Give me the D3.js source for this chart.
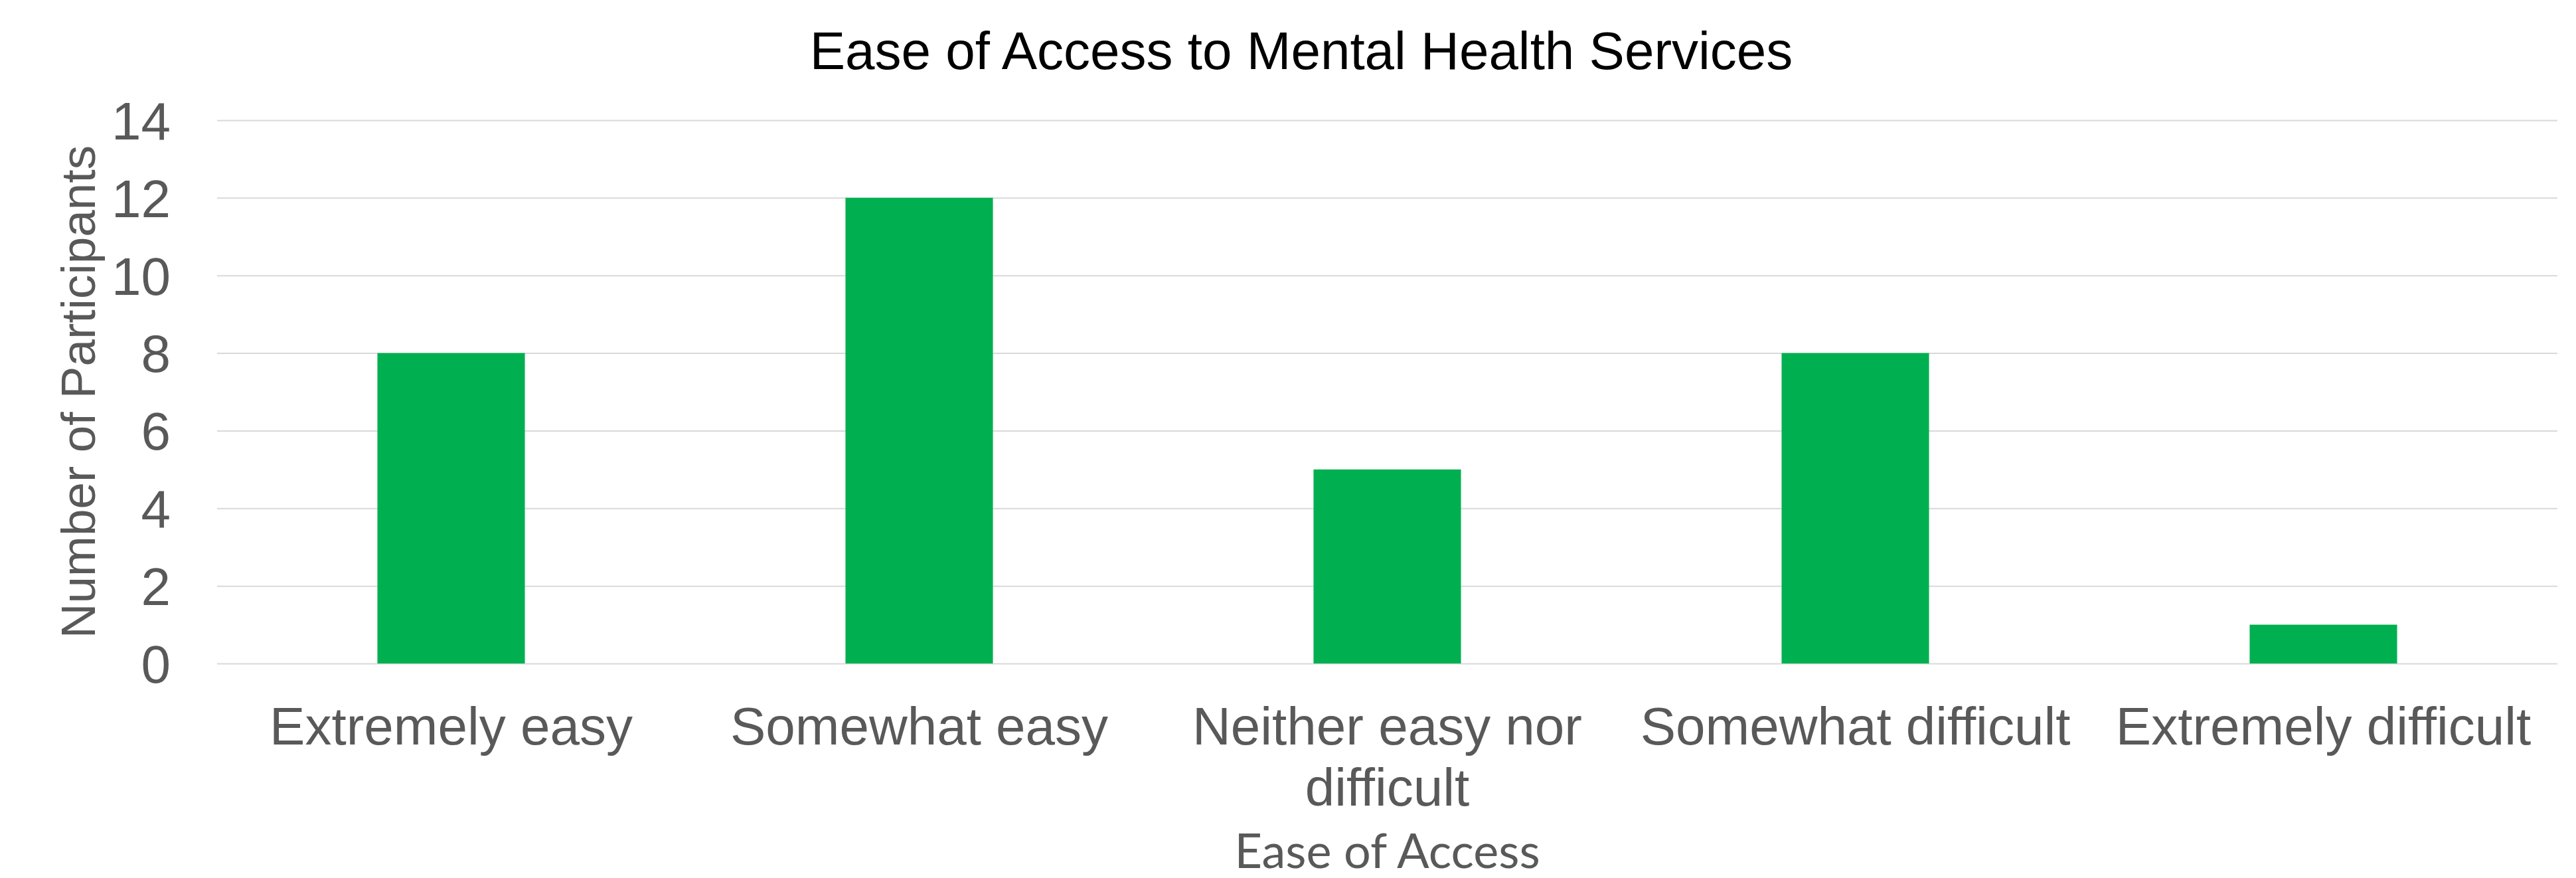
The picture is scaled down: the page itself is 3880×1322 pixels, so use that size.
<!DOCTYPE html>
<html>
<head>
<meta charset="utf-8">
<script src="https://cdn.jsdelivr.net/npm/d3@7"></script>
<style>
  html, body { margin: 0; padding: 0; background: #ffffff; }
  svg { display: block; }
</style>
</head>
<body>
<script>
// ---- data ----
const categories = ["Extremely easy", "Somewhat easy", "Neither easy nor difficult", "Somewhat difficult", "Extremely difficult"];
const participants = [8, 12, 5, 8, 1];
const yTicks = [0, 2, 4, 6, 8, 10, 12, 14];
const chartTitle = "Ease of Access to Mental Health Services";
const xTitle = "Ease of Access";
const yTitle = "Number of Participants";

// ---- layout ----
const W = 3880, H = 1322;
const plot = { left: 327, right: 3852, top: 181, bottom: 999 };
const labelFont = "'Liberation Sans', Arial, sans-serif";
const grey = "#595959";

const svg = d3.select("body").append("svg")
  .attr("width", W).attr("height", H)
  .style("background", "#ffffff");

const x = d3.scaleBand()
  .domain(categories)
  .range([plot.left, plot.right])
  .paddingInner(0.685)
  .paddingOuter(0.3425);

const y = d3.scaleLinear()
  .domain([0, 14])
  .range([plot.bottom, plot.top]);

// gridlines
const grid = svg.append("g")
  .attr("transform", `translate(${plot.left},0)`)
  .call(d3.axisLeft(y).tickValues(yTicks).tickSize(-(plot.right - plot.left)).tickFormat(""));
grid.select(".domain").remove();
grid.selectAll(".tick line").attr("stroke", "#d9d9d9").attr("stroke-width", 2);

// y tick labels
const yAxis = svg.append("g")
  .attr("transform", `translate(257,0)`)
  .call(d3.axisLeft(y).tickValues(yTicks).tickSize(0).tickPadding(0).tickFormat(d3.format("d")));
yAxis.select(".domain").remove();
yAxis.selectAll(".tick text")
  .attr("font-family", labelFont)
  .attr("font-size", 80)
  .attr("fill", grey)
  .attr("text-anchor", "end")
  .attr("x", 0)
  .attr("dy", "0.355em");

// bars
svg.append("g").selectAll("rect")
  .data(categories)
  .join("rect")
  .attr("x", d => x(d))
  .attr("width", x.bandwidth())
  .attr("y", (d, i) => y(participants[i]))
  .attr("height", (d, i) => y(0) - y(participants[i]))
  .attr("fill", "#00B050");

// x axis (category labels)
const xAxis = svg.append("g")
  .attr("transform", `translate(0,${plot.bottom})`)
  .call(d3.axisBottom(x).tickSize(0).tickPadding(0));
xAxis.select(".domain").remove();
const step = x.step();
xAxis.selectAll(".tick text")
  .attr("font-family", labelFont)
  .attr("font-size", 80)
  .attr("fill", grey)
  .attr("y", 122)
  .attr("dy", 0)
  .each(function (d) {
    const t = d3.select(this);
    const words = d.split(/\s+/);
    t.text(null);
    let line = [];
    let lineNo = 0;
    let tspan = t.append("tspan").attr("x", 0).attr("y", 122);
    for (const w of words) {
      line.push(w);
      tspan.text(line.join(" "));
      if (tspan.node().getComputedTextLength() > step - 10 && line.length > 1) {
        line.pop();
        tspan.text(line.join(" "));
        line = [w];
        lineNo++;
        tspan = t.append("tspan").attr("x", 0).attr("y", 122 + lineNo * 92).text(w);
      }
    }
  });

// titles
svg.append("text")
  .attr("x", 1960).attr("y", 104)
  .attr("text-anchor", "middle")
  .attr("font-family", labelFont)
  .attr("font-size", 80)
  .attr("fill", "#000000")
  .text(chartTitle);

svg.append("text")
  .attr("x", (plot.left + plot.right) / 2).attr("y", 1307)
  .attr("text-anchor", "middle")
  .attr("font-family", "Lato, 'Open Sans', sans-serif")
  .attr("font-size", 72)
  .attr("fill", grey)
  .text(xTitle);

svg.append("text")
  .attr("transform", `translate(143,${(plot.top + plot.bottom) / 2}) rotate(-90)`)
  .attr("text-anchor", "middle")
  .attr("font-family", labelFont)
  .attr("font-size", 73)
  .attr("fill", grey)
  .text(yTitle);
</script>
</body>
</html>
